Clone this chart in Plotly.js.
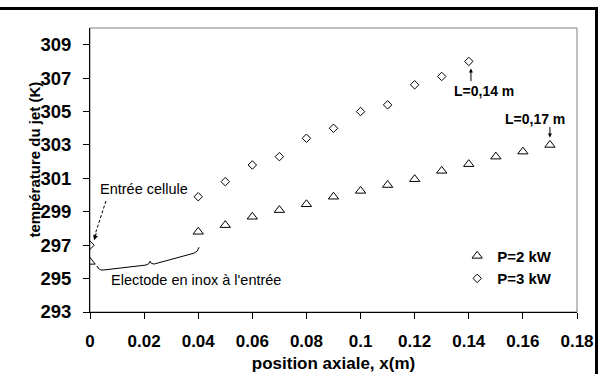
<!DOCTYPE html>
<html>
<head>
<meta charset="utf-8">
<script src="https://cdn.plot.ly/plotly-3.0.1.min.js"></script>
<style>
html,body{margin:0;padding:0;background:#fff;overflow:hidden;}
#wrap{position:relative;width:602px;height:374px;overflow:hidden;}
#chart{position:absolute;left:0;top:0;width:602px;height:374px;}
#frame{position:absolute;left:-10px;top:7px;width:608px;height:400px;border:3px solid #000;box-sizing:border-box;pointer-events:none;}
</style>
</head>
<body>
<div id="wrap"><div id="chart"></div><div id="frame"></div></div>
<script>
// Data
const x2kW = [0, 0.04, 0.05, 0.06, 0.07, 0.08, 0.09, 0.10, 0.11, 0.12, 0.13, 0.14, 0.15, 0.16, 0.17];
const T2kW = [296.0, 297.8, 298.2, 298.7, 299.1, 299.45, 299.9, 300.25, 300.6, 300.95, 301.45, 301.85, 302.3, 302.6, 303.0];
const x3kW = [0, 0.04, 0.05, 0.06, 0.07, 0.08, 0.09, 0.10, 0.11, 0.12, 0.13, 0.14];
const T3kW = [297.0, 299.9, 300.8, 301.8, 302.3, 303.4, 304.0, 305.0, 305.4, 306.6, 307.1, 308.0];
const xTicks = [0, 0.02, 0.04, 0.06, 0.08, 0.1, 0.12, 0.14, 0.16, 0.18];
const xTickText = ['0', '0.02', '0.04', '0.06', '0.08', '0.1', '0.12', '0.14', '0.16', '0.18'];
const yTicks = [293, 295, 297, 299, 301, 303, 305, 307, 309];
const seriesNames = ['P=2 kW', 'P=3 kW'];

const FONT = 'Liberation Sans, Arial, sans-serif';

const traces = [
  {x: x2kW, y: T2kW, name: seriesNames[0], mode: 'markers', type: 'scatter',
   marker: {symbol: 'triangle-up-open', size: 9, color: '#000', line: {width: 1, color: '#000'}}},
  {x: x3kW, y: T3kW, name: seriesNames[1], mode: 'markers', type: 'scatter',
   marker: {symbol: 'diamond-open', size: 6.5, color: '#000', line: {width: 1, color: '#000'}}}
];

const layout = {
  width: 602, height: 374,
  margin: {l: 90, r: 25, t: 28, b: 62},
  paper_bgcolor: '#fff', plot_bgcolor: '#fff',
  font: {family: FONT, color: '#000'},
  showlegend: true,
  legend: {x: 0.754, y: 0.158, xanchor: 'left', yanchor: 'middle', bgcolor: 'rgba(0,0,0,0)',
           font: {family: FONT, size: 15, weight: 'bold', color: '#000'}, itemwidth: 30, tracegroupgap: 0},
  xaxis: {range: [0, 0.18], tickvals: xTicks, ticktext: xTickText, showgrid: false, zeroline: false,
          showline: true, linecolor: '#000', linewidth: 1, ticks: 'outside', ticklen: 6, tickcolor: '#000',
          tickfont: {family: FONT, size: 17, weight: 'bold'}, ticklabelstandoff: 8,
          title: {text: 'position axiale, x(m)', font: {family: FONT, size: 17, weight: 'bold'}, standoff: 6}},
  yaxis: {range: [293, 310], tickvals: yTicks, showgrid: false, zeroline: false,
          showline: true, linecolor: '#000', linewidth: 1, ticks: 'outside', ticklen: 6, tickcolor: '#000',
          tickfont: {family: FONT, size: 18.5, weight: 'bold'}, ticklabelstandoff: 8},
  shapes: [
    {type: 'rect', xref: 'paper', yref: 'paper', x0: 0, x1: 1, y0: 0, y1: 1, layer: 'below',
     line: {color: '#808080', width: 1}},
    // dashed pointer for "Entrée cellule"
    {type: 'line', xref: 'x', yref: 'y', x0: 0.0059, y0: 299.65, x1: 0.0015, y1: 297.45,
     line: {color: '#000', width: 1, dash: '3px,2px'}},
    // curly brace under the electrode zone
    {type: 'path', xref: 'x', yref: 'y',
     path: 'M 0.0026 295.75 Q 0.0032 295.5 0.0048 295.51 L 0.0207 295.81 Q 0.022 295.85 0.0222 296.04 Q 0.0224 295.87 0.0237 295.87 L 0.0384 296.52 Q 0.0400 296.6 0.0403 296.88',
     line: {color: '#000', width: 1}}
  ],
  annotations: [
    {xref: 'paper', yref: 'paper', x: -0.1355, y: 0.535, text: 'température du jet (K)', textangle: -90,
     showarrow: false, font: {family: FONT, size: 15, weight: 'bold'}},
    {xref: 'x', yref: 'y', x: 0.02, y: 300.34, text: 'Entrée cellule', showarrow: false,
     font: {family: FONT, size: 14.5}},
    {xref: 'x', yref: 'y', x: 0.0015, y: 297.3, ax: 0.0025, ay: 297.8, axref: 'x', ayref: 'y', text: '',
     showarrow: true, arrowhead: 2, arrowsize: 1, arrowwidth: 1, arrowcolor: '#000'},
    {xref: 'x', yref: 'y', x: 0.0392, y: 294.91, text: "Electode en inox à l'entrée", showarrow: false,
     font: {family: FONT, size: 14.5}},
    {xref: 'x', yref: 'y', x: 0.1457, y: 306.25, text: 'L=0,14 m', showarrow: false,
     font: {family: FONT, size: 14, weight: 'bold'}},
    {xref: 'x', yref: 'y', x: 0.1408, y: 307.57, ax: 0.1408, ay: 306.73, axref: 'x', ayref: 'y', text: '',
     showarrow: true, arrowhead: 2, arrowsize: 0.8, arrowwidth: 1, arrowcolor: '#000'},
    {xref: 'x', yref: 'y', x: 0.1645, y: 304.58, text: 'L=0,17 m', showarrow: false,
     font: {family: FONT, size: 14, weight: 'bold'}},
    {xref: 'x', yref: 'y', x: 0.17, y: 303.45, ax: 0.17, ay: 304.16, axref: 'x', ayref: 'y', text: '',
     showarrow: true, arrowhead: 2, arrowsize: 0.8, arrowwidth: 1, arrowcolor: '#000'}
  ]
};

Plotly.newPlot('chart', traces, layout, {displayModeBar: false, staticPlot: true});
</script>
</body>
</html>
